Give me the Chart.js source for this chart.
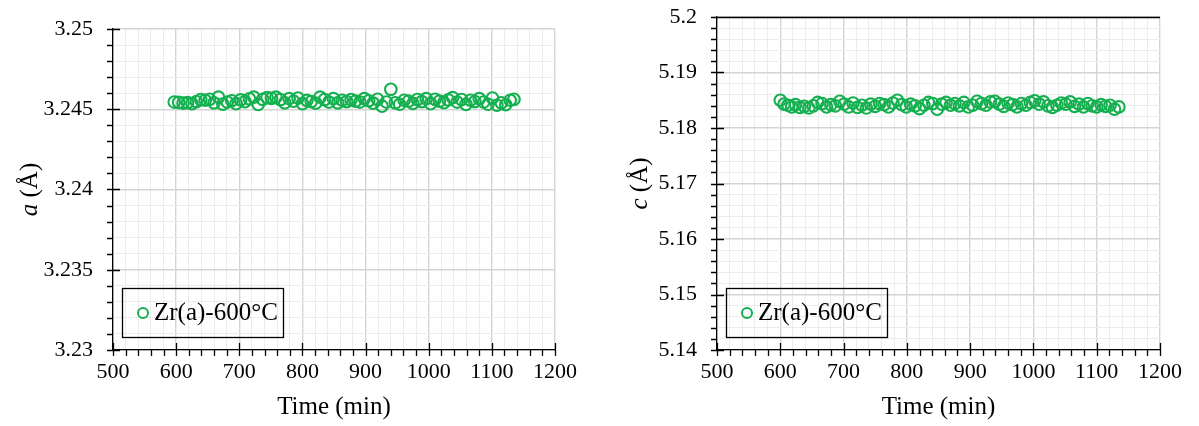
<!DOCTYPE html>
<html>
<head>
<meta charset="utf-8">
<script src="https://cdn.jsdelivr.net/npm/chart.js@4.4.1/dist/chart.umd.min.js"></script>
<style>
  html, body { margin: 0; padding: 0; background: #fff; }
  .row { display: flex; width: 1199px; height: 426px; }
</style>
</head>
<body>
<div class="row">
  <canvas id="lattice-a" width="600" height="426"></canvas>
  <canvas id="lattice-c" width="599" height="426"></canvas>
</div>
<script>
"use strict";

const SERIES_LABEL = 'Zr(a)-600°C';
const POINT_COLOR = '#14b04f';
const FONT = '"Liberation Serif", "Times New Roman", serif';

// Measurement times (min)
const timeA = [597, 604, 611, 618, 625, 632, 639, 646, 653, 660, 667, 674, 681, 688, 695, 702,
    709, 716, 723, 730, 737, 744, 751, 758, 765, 772, 779, 786, 793, 800, 807, 814, 821, 828,
    835, 842, 849, 856, 863, 870, 877, 884, 891, 898, 905, 912, 919, 926, 933, 940, 947, 954,
    961, 968, 975, 982, 989, 996, 1003, 1010, 1017, 1024, 1031, 1038, 1045, 1052, 1059, 1066,
    1073, 1080, 1087, 1094, 1101, 1108, 1115, 1122, 1129, 1135];

// Lattice parameter a (Å)
const valuesA = [3.24545, 3.24543, 3.24538, 3.24541, 3.24535, 3.24548, 3.24560, 3.24556, 3.24562, 3.24540,
    3.24575, 3.24532, 3.24545, 3.24553, 3.24535, 3.24558, 3.24547, 3.24565, 3.24575, 3.24530,
    3.24562, 3.24572, 3.24568, 3.24575, 3.24560, 3.24540, 3.24566, 3.24550, 3.24570, 3.24535,
    3.24555, 3.24548, 3.24538, 3.24575, 3.24560, 3.24545, 3.24566, 3.24540, 3.24556, 3.24548,
    3.24560, 3.24550, 3.24545, 3.24566, 3.24553, 3.24538, 3.24562, 3.24519, 3.24545, 3.24624,
    3.24540, 3.24531, 3.24556, 3.24550, 3.24536, 3.24560, 3.24548, 3.24566, 3.24535, 3.24562,
    3.24550, 3.24541, 3.24558, 3.24572, 3.24545, 3.24560, 3.24530, 3.24556, 3.24548, 3.24566,
    3.24545, 3.24531, 3.24570, 3.24525, 3.24540, 3.24528, 3.24556, 3.24562];

const timeC = [600, 606, 612, 618, 624, 631, 638, 645, 652, 659, 666, 673, 680, 687, 694, 701,
    708, 715, 722, 729, 736, 743, 750, 757, 764, 771, 778, 785, 792, 799, 806, 813, 820, 827,
    834, 841, 848, 855, 862, 869, 876, 883, 890, 897, 904, 911, 918, 925, 932, 939, 946, 953,
    960, 967, 974, 981, 988, 995, 1002, 1009, 1016, 1023, 1030, 1037, 1044, 1051, 1058, 1065,
    1072, 1079, 1086, 1093, 1100, 1107, 1114, 1121, 1128, 1135];

// Lattice parameter c (Å)
const valuesC = [5.1850, 5.1843, 5.1841, 5.1838, 5.1842, 5.1837, 5.1839, 5.1836, 5.1840, 5.1846,
    5.1844, 5.1838, 5.1842, 5.1840, 5.1848, 5.1843, 5.1838, 5.1845, 5.1837, 5.1841,
    5.1836, 5.1843, 5.1839, 5.1844, 5.1842, 5.1838, 5.1845, 5.1850, 5.1842, 5.1838,
    5.1843, 5.1840, 5.1835, 5.1841, 5.1846, 5.1844, 5.1834, 5.1843, 5.1846, 5.1841,
    5.1844, 5.1840, 5.1846, 5.1838, 5.1841, 5.1848, 5.1844, 5.1841, 5.1847, 5.1848,
    5.1843, 5.1839, 5.1845, 5.1842, 5.1838, 5.1844, 5.1841, 5.1846, 5.1849, 5.1843,
    5.1847, 5.1840, 5.1837, 5.1841, 5.1845, 5.1843, 5.1847, 5.1839, 5.1843, 5.1838,
    5.1844, 5.1840, 5.1838, 5.1842, 5.1839, 5.1841, 5.1834, 5.1838];

const xTicks = { min: 500, max: 1200, minor: 20, major: 100 };

function isMajor(v, step) {
    const r = v / step;
    return Math.abs(r - Math.round(r)) < 1e-6;
}

function fmt(v) {
    return String(Number(v.toFixed(4)));
}

// tick marks: major ones cross the axis line, minor ones point outward
const tickMarks = {
    id: 'tickMarks',
    afterDatasetsDraw(chart, args, opts) {
        const { ctx, chartArea } = chart;
        const xs = chart.scales.x, ys = chart.scales.y;
        ctx.save();
        ctx.strokeStyle = '#000';
        ctx.lineWidth = 1.3;
        ctx.beginPath();
        xs.ticks.forEach(t => {
            const px = Math.round(xs.getPixelForValue(t.value)) + 0.5;
            const major = isMajor(t.value, opts.xMajor);
            ctx.moveTo(px, chartArea.bottom + 6);
            ctx.lineTo(px, chartArea.bottom - (major ? 7 : 0));
        });
        ys.ticks.forEach(t => {
            const py = Math.round(ys.getPixelForValue(t.value)) + 0.5;
            const major = isMajor(t.value, opts.yMajor);
            ctx.moveTo(chartArea.left - 6, py);
            ctx.lineTo(chartArea.left + (major ? 7 : 0), py);
        });
        if (opts.topBorder) {
            ctx.moveTo(chartArea.left, chartArea.top + 0.5);
            ctx.lineTo(chartArea.right, chartArea.top + 0.5);
        }
        ctx.stroke();
        ctx.restore();
    }
};

// axis titles (italic symbol in the y title) and the boxed legend
const decorations = {
    id: 'decorations',
    afterDraw(chart, args, opts) {
        const { ctx, chartArea } = chart;
        ctx.save();
        ctx.fillStyle = '#000';
        ctx.textBaseline = 'middle';

        ctx.font = '25px ' + FONT;
        ctx.textAlign = 'center';
        ctx.fillText('Time (min)', (chartArea.left + chartArea.right) / 2, 407);

        ctx.translate(opts.yTitleX, (chartArea.top + chartArea.bottom) / 2);
        ctx.rotate(-Math.PI / 2);
        ctx.textAlign = 'left';
        ctx.font = 'italic 25px ' + FONT;
        const symW = ctx.measureText(opts.symbol).width;
        ctx.font = '25px ' + FONT;
        const restW = ctx.measureText(' (Å)').width;
        const x0 = -(symW + restW) / 2;
        ctx.font = 'italic 25px ' + FONT;
        ctx.fillText(opts.symbol, x0, 0);
        ctx.font = '25px ' + FONT;
        ctx.fillText(' (Å)', x0 + symW, 0);
        ctx.setTransform(1, 0, 0, 1, 0, 0);

        const bx = chartArea.left + 9, by = chartArea.bottom - 62;
        ctx.strokeStyle = '#000';
        ctx.lineWidth = 1.3;
        ctx.strokeRect(bx + 0.5, by + 0.5, 161, 49);
        const ds = chart.data.datasets[0];
        ctx.strokeStyle = ds.borderColor;
        ctx.lineWidth = 2;
        ctx.beginPath();
        ctx.arc(bx + 21, by + 25, 5, 0, Math.PI * 2);
        ctx.stroke();
        ctx.fillStyle = '#000';
        ctx.font = '25px ' + FONT;
        ctx.fillText(ds.label, bx + 32, by + 25);
        ctx.restore();
    }
};

function makeChart(id, times, values, y, layout) {
    const ctx = document.getElementById(id).getContext('2d');
    return new Chart(ctx, {
        type: 'scatter',
        data: {
            datasets: [{
                label: SERIES_LABEL,
                data: times.map((t, i) => ({ x: t, y: values[i] })),
                borderColor: POINT_COLOR,
                backgroundColor: 'rgba(0,0,0,0)',
                pointStyle: 'circle',
                pointRadius: 5.8,
                pointBorderWidth: 2.1,
                showLine: false
            }]
        },
        options: {
            responsive: false,
            animation: false,
            layout: { padding: { left: 0, right: layout.right, top: layout.top, bottom: 0 } },
            scales: {
                x: {
                    type: 'linear',
                    min: xTicks.min,
                    max: xTicks.max,
                    afterFit: s => { s.height = 76; s.paddingLeft = 0; s.paddingRight = 0; },
                    border: { display: true, color: '#000', width: 1.3 },
                    grid: {
                        drawTicks: false,
                        color: c => isMajor(c.tick.value, xTicks.major) ? '#d4d4d4' : '#ececec',
                        lineWidth: c => isMajor(c.tick.value, xTicks.major) ? 1.4 : 1
                    },
                    ticks: {
                        stepSize: xTicks.minor,
                        autoSkip: false,
                        maxRotation: 0,
                        padding: 9,
                        color: '#000',
                        font: { family: FONT, size: 22 },
                        callback: v => isMajor(v, xTicks.major) ? String(v) : ''
                    }
                },
                y: {
                    min: y.min,
                    max: y.max,
                    afterFit: s => { s.width = layout.axisWidth; s.paddingTop = 0; s.paddingBottom = 0; },
                    border: { display: true, color: '#000', width: 1.3 },
                    grid: {
                        drawTicks: false,
                        color: c => isMajor(c.tick.value, y.major) ? '#d4d4d4' : '#ececec',
                        lineWidth: c => isMajor(c.tick.value, y.major) ? 1.4 : 1
                    },
                    ticks: {
                        stepSize: y.minor,
                        autoSkip: false,
                        padding: 20,
                        color: '#000',
                        font: { family: FONT, size: 22 },
                        callback: v => isMajor(v, y.major) ? fmt(v) : ''
                    }
                }
            },
            plugins: {
                legend: { display: false },
                tooltip: { enabled: false },
                tickMarks: { xMajor: xTicks.major, yMajor: y.major, topBorder: layout.topBorder },
                decorations: { symbol: y.symbol, yTitleX: layout.yTitleX }
            }
        },
        plugins: [tickMarks, decorations]
    });
}

const chartA = makeChart('lattice-a', timeA, valuesA,
    { min: 3.23, max: 3.25, minor: 0.001, major: 0.005, symbol: 'a' },
    { right: 45, top: 29, axisWidth: 113, yTitleX: 30, topBorder: false });

const chartC = makeChart('lattice-c', timeC, valuesC,
    { min: 5.14, max: 5.2, minor: 0.002, major: 0.01, symbol: 'c' },
    { right: 39, top: 17, axisWidth: 117, yTitleX: 40, topBorder: true });
</script>
</body>
</html>
